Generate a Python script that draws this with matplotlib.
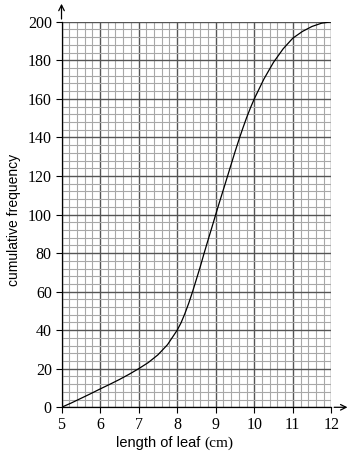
import numpy as np
import matplotlib
matplotlib.use('Agg')
import matplotlib.pyplot as plt

# leitura da curva de frequência acumulada
comprimento = [5, 5.25, 5.5, 5.75, 6, 6.25, 6.5, 6.75, 7, 7.25, 7.5, 7.75,
               8, 8.1, 8.2, 8.3, 8.4, 8.5, 8.6, 8.7, 8.8, 8.9, 9, 9.1, 9.2,
               9.3, 9.4, 9.5, 9.6, 9.7, 9.8, 9.9, 10, 10.25, 10.5, 10.75,
               11, 11.25, 11.5, 11.75, 12]
freq_acum = [0, 2.2, 4.6, 7, 9.5, 11.9, 14.4, 17.1, 20, 23.2, 27.2, 32.5,
             40, 43.8, 48.6, 54, 60, 66.5, 73, 80, 86.7, 93.3, 100, 106.6, 113,
             119.5, 126, 132.5, 138.7, 144.6, 150.2, 155.3, 160, 170.3, 179,
             186, 191.5, 195, 197.6, 199.3, 200]

x_ticks = [5, 6, 7, 8, 9, 10, 11, 12]
y_ticks = list(range(0, 201, 20))

fig = plt.figure(figsize=(3.56, 4.53), dpi=100)
ax = fig.add_axes([0.1728, 0.1009, 0.758, 0.851])

ax.set_xlim(5, 12)
ax.set_ylim(0, 200)
ax.set_xticks(x_ticks)
ax.set_yticks(y_ticks)
ax.set_xticks(np.arange(5, 12.01, 0.2), minor=True)
ax.set_yticks(np.arange(0, 200.1, 4), minor=True)

ax.grid(which='minor', color='#a8a8a8', linewidth=0.8, zorder=0)
ax.grid(which='major', color='#555555', linewidth=1.0, zorder=1)
ax.set_axisbelow(True)

for s in ['top', 'right']:
    ax.spines[s].set_visible(False)
for s in ['left', 'bottom']:
    ax.spines[s].set_color('black')
    ax.spines[s].set_linewidth(0.9)

ax.tick_params(which='major', direction='out', length=4, width=0.8, pad=3,
               labelsize=11.5)
ax.tick_params(which='minor', length=0)
for lab in ax.get_xticklabels() + ax.get_yticklabels():
    lab.set_fontfamily('Liberation Serif')

ax.plot(comprimento, freq_acum, color='black', linewidth=0.9, zorder=3)

# setas dos eixos
ax.annotate('', xy=(1.07, 0), xytext=(1.0, 0), xycoords='axes fraction',
            arrowprops=dict(arrowstyle='->', color='black', lw=0.9,
                            mutation_scale=10), annotation_clip=False)
ax.annotate('', xy=(0, 1.054), xytext=(0, 1.0), xycoords='axes fraction',
            arrowprops=dict(arrowstyle='->', color='black', lw=0.9,
                            mutation_scale=10), annotation_clip=False)

fig.text(0.575, 0.014, 'length of leaf ', ha='right', va='baseline',
         fontsize=10.5, family='Liberation Sans')
fig.text(0.575, 0.014, '(cm)', ha='left', va='baseline',
         fontsize=11, family='Liberation Serif')
fig.text(0.038, 0.515, 'cumulative frequency', ha='center', va='center',
         rotation=90, fontsize=10, family='Liberation Sans')

fig.savefig('out.png', dpi=100)
